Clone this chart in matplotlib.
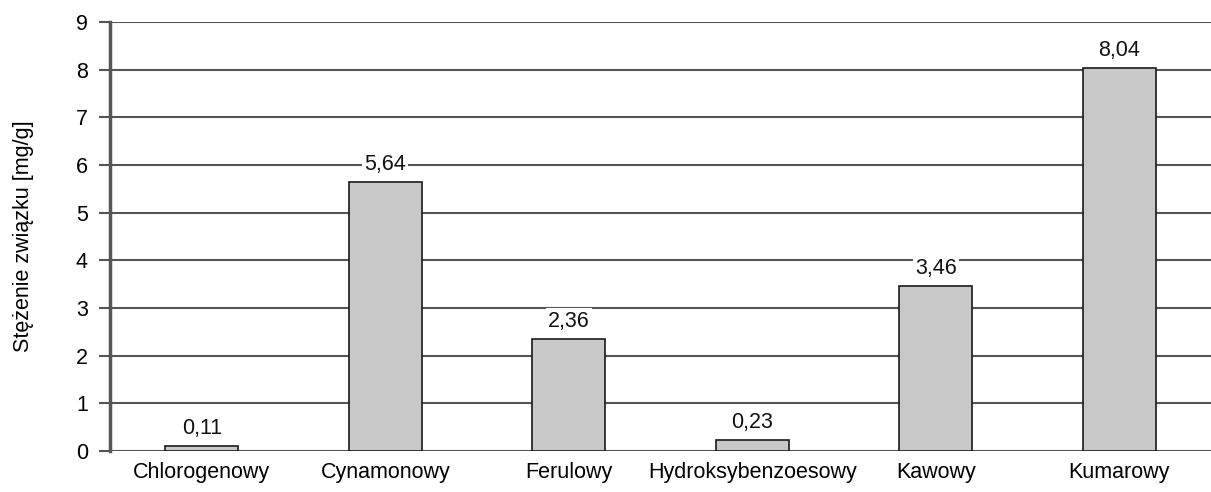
import numpy as np
import matplotlib.pyplot as plt

plt.rcParams['font.family'] = ['Liberation Sans', 'DejaVu Sans']

# stężenia kwasów fenolowych
kwasy = ['Chlorogenowy', 'Cynamonowy', 'Ferulowy', 'Hydroksybenzoesowy', 'Kawowy', 'Kumarowy']
stezenia = [0.11, 5.64, 2.36, 0.23, 3.46, 8.04]
etykiety = ['0,11', '5,64', '2,36', '0,23', '3,46', '8,04']

fig = plt.figure(figsize=(12.11, 4.92), dpi=100)
ax = fig.add_axes([110/1211, 41/492, 1101/1211, 429/492])

x = np.arange(len(kwasy))
ax.bar(x, stezenia, width=0.4, color='#c8c8c8', edgecolor='#1a1a1a', linewidth=1.2, zorder=3)

for xi, v, t in zip(x, stezenia, etykiety):
    ax.annotate(t, (xi, v), xytext=(0, 5), textcoords='offset points',
                ha='center', va='bottom', fontsize=15.5, color='#111111',
                bbox=dict(facecolor='white', edgecolor='none', pad=1.5), zorder=4)

ax.set_xlim(-0.5, 5.5)
ax.set_ylim(0, 9)
ax.set_yticks(range(10))
ax.set_xticks(x)
ax.set_xticklabels(kwasy)
ax.tick_params(axis='y', length=8, width=1.5, color='#555555', labelsize=15.5, pad=8)
ax.tick_params(axis='x', length=0, labelsize=15.5, pad=8)
ax.yaxis.grid(True, color='#555555', linewidth=1.5, zorder=0)

for s in ['top', 'right', 'bottom']:
    ax.spines[s].set_visible(False)
ax.spines['left'].set_color('#555555')
ax.spines['left'].set_linewidth(2.5)

ax.set_ylabel('Stężenie związku [mg/g]', fontsize=15.5, labelpad=30)

fig.savefig('out.png', dpi=100)
